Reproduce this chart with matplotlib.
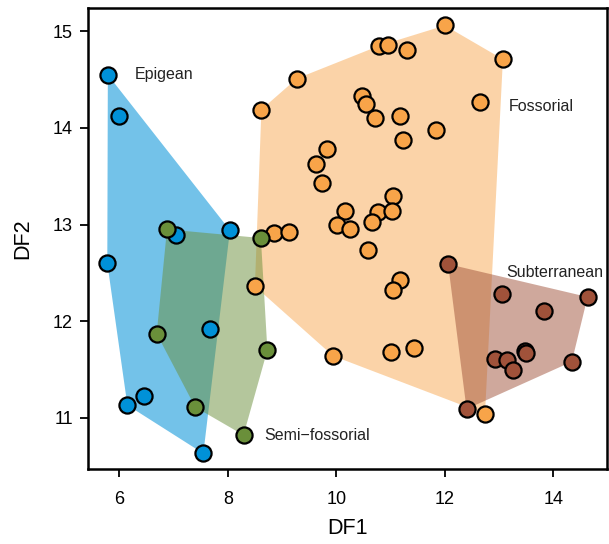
import numpy as np
import matplotlib.pyplot as plt

plt.rcParams['font.family'] = ['Liberation Sans', 'DejaVu Sans']

# group scores (DF1, DF2)
epigean_x = [5.79, 6.00, 8.04, 7.05, 5.78, 7.68, 6.46, 6.15, 7.55]
epigean_y = [14.55, 14.12, 12.94, 12.89, 12.60, 11.92, 11.22, 11.13, 10.63]

fossorial_x = [9.27, 8.62, 9.82, 9.63, 9.73, 10.16, 10.01, 10.26, 8.85, 9.13, 8.50, 9.94,
               12.00, 10.79, 10.96, 11.31, 13.07, 10.48, 10.54, 12.65, 10.71, 11.17, 11.84,
               11.22, 11.05, 10.77, 11.02, 10.65, 10.59, 11.17, 11.04, 11.01, 11.43, 12.74]
fossorial_y = [14.51, 14.19, 13.78, 13.63, 13.43, 13.14, 12.99, 12.95, 12.91, 12.92, 12.36, 11.64,
               15.06, 14.85, 14.86, 14.81, 14.71, 14.33, 14.25, 14.27, 14.10, 14.12, 13.98,
               13.87, 13.30, 13.13, 13.14, 13.03, 12.74, 12.43, 12.32, 11.68, 11.72, 11.04]

semi_x = [6.88, 8.61, 6.69, 8.73, 7.40, 8.29]
semi_y = [12.95, 12.86, 11.87, 11.70, 11.11, 10.82]

subterr_x = [12.06, 13.05, 14.63, 13.82, 13.48, 13.50, 12.93, 13.14, 13.26, 14.34, 12.40]
subterr_y = [12.59, 12.28, 12.25, 12.10, 11.69, 11.67, 11.61, 11.60, 11.49, 11.58, 11.09]

groups = ['Epigean', 'Fossorial', 'Semi\u2212fossorial', 'Subterranean']
colors = ['#0091d8', '#f8a449', '#6a8f3a', '#a0523a']
label_pos = [(6.29, 14.55), (13.17, 14.22), (8.67, 10.82), (13.14, 12.50)]


def hull(xs, ys):
    # monotone chain convex hull
    pts = sorted(set(zip(xs, ys)))

    def cross(o, a, b):
        return (a[0] - o[0]) * (b[1] - o[1]) - (a[1] - o[1]) * (b[0] - o[0])

    lower, upper = [], []
    for p in pts:
        while len(lower) >= 2 and cross(lower[-2], lower[-1], p) <= 0:
            lower.pop()
        lower.append(p)
    for p in reversed(pts):
        while len(upper) >= 2 and cross(upper[-2], upper[-1], p) <= 0:
            upper.pop()
        upper.append(p)
    return np.array(lower[:-1] + upper[:-1])


data = [(epigean_x, epigean_y), (fossorial_x, fossorial_y),
        (semi_x, semi_y), (subterr_x, subterr_y)]
fill_alpha = [0.55, 0.48, 0.5, 0.5]

fig = plt.figure(figsize=(6.09, 5.44), dpi=100)
ax = fig.add_axes([0.145, 0.138, 0.851, 0.848])

# polygons first, fossorial at the bottom
for i in [1, 0, 2, 3]:
    h = hull(*data[i])
    ax.fill(h[:, 0], h[:, 1], color=colors[i], alpha=fill_alpha[i], lw=0, zorder=1)

for i in [0, 1, 2, 3]:
    ax.scatter(data[i][0], data[i][1], s=135, color=colors[i],
               edgecolor='black', linewidth=1.6, zorder=3)

for name, (tx, ty) in zip(groups, label_pos):
    ax.text(tx, ty, name, fontsize=11.5, ha='left', va='center', color='#222222', zorder=4)

ax.set_xlim(5.43, 14.98)
ax.set_ylim(10.47, 15.245)
ax.set_xticks([6, 8, 10, 12, 14])
ax.set_yticks([11, 12, 13, 14, 15])
ax.tick_params(labelsize=13, length=6, width=1.3, pad=10)
ax.tick_params(axis='y', pad=5)
for s in ax.spines.values():
    s.set_linewidth(1.8)
ax.set_xlabel('DF1', fontsize=15.5, labelpad=7)
ax.set_ylabel('DF2', fontsize=15.5, labelpad=14)

fig.savefig('out.png', dpi=100)
